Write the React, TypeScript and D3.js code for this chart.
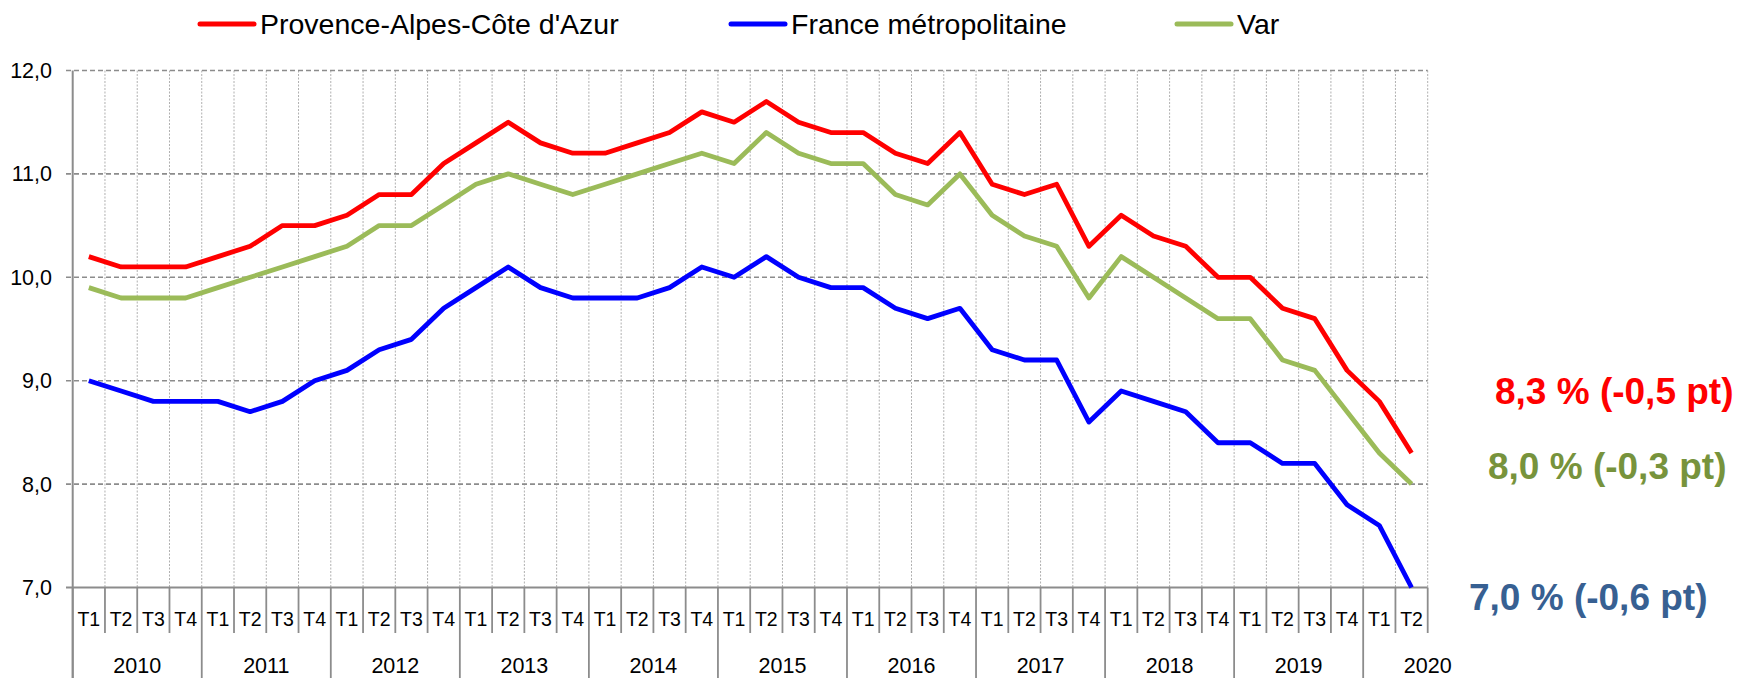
import React from "react";
import * as d3 from "d3";

const years = ["2010", "2011", "2012", "2013", "2014", "2015", "2016", "2017", "2018", "2019", "2020"];
const quarterLabels = ["T1", "T2", "T3", "T4"];
const periodCount = 42;

const paca = [
  10.2, 10.1, 10.1, 10.1, 10.2, 10.3, 10.5, 10.5, 10.6, 10.8, 10.8, 11.1,
  11.3, 11.5, 11.3, 11.2, 11.2, 11.3, 11.4, 11.6, 11.5, 11.7, 11.5, 11.4,
  11.4, 11.2, 11.1, 11.4, 10.9, 10.8, 10.9, 10.3, 10.6, 10.4, 10.3, 10.0,
  10.0, 9.7, 9.6, 9.1, 8.8, 8.3,
];
const france = [
  9.0, 8.9, 8.8, 8.8, 8.8, 8.7, 8.8, 9.0, 9.1, 9.3, 9.4, 9.7,
  9.9, 10.1, 9.9, 9.8, 9.8, 9.8, 9.9, 10.1, 10.0, 10.2, 10.0, 9.9,
  9.9, 9.7, 9.6, 9.7, 9.3, 9.2, 9.2, 8.6, 8.9, 8.8, 8.7, 8.4,
  8.4, 8.2, 8.2, 7.8, 7.6, 7.0,
];
const varDept = [
  9.9, 9.8, 9.8, 9.8, 9.9, 10.0, 10.1, 10.2, 10.3, 10.5, 10.5, 10.7,
  10.9, 11.0, 10.9, 10.8, 10.9, 11.0, 11.1, 11.2, 11.1, 11.4, 11.2, 11.1,
  11.1, 10.8, 10.7, 11.0, 10.6, 10.4, 10.3, 9.8, 10.2, 10.0, 9.8, 9.6,
  9.6, 9.2, 9.1, 8.7, 8.3, 8.0,
];
const yTicks = [7, 8, 9, 10, 11, 12];

const seriesNames = ["Provence-Alpes-Côte d'Azur", "France métropolitaine", "Var"];
const seriesColors = ["#FF0000", "#0000FF", "#9BBB59"];
const annotations = ["8,3 % (-0,5 pt)", "8,0 % (-0,3 pt)", "7,0 % (-0,6 pt)"];
const annotationColors = ["#FF0000", "#77933C", "#376092"];

const W = 1743;
const H = 678;
const FONT = "'Liberation Sans', Arial, sans-serif";

export default function App() {
  const idx = d3.range(periodCount);
  const x = d3.scaleBand<number>().domain(idx).range([72.7, 1427.7]).padding(0);
  const y = d3.scaleLinear().domain([7, 12]).range([587.5, 70.5]);
  const bw = x.bandwidth();
  const left = x.range()[0];
  const right = x.range()[1];
  const bottom = y(7);

  const line = d3
    .line<number>()
    .x((_, i) => (x(i) as number) + bw / 2)
    .y((d) => y(d));

  const fmt = (v: number) => d3.format(".1f")(v).replace(".", ",");

  const boundaries = d3.range(periodCount + 1).map((i) => left + i * bw);

  const series = [paca, france, varDept];
  const drawOrder = [2, 1, 0];

  const legendX = [200, 731, 1177];

  return (
    <div style={{ position: "absolute", left: 0, top: 0 }}>
      <svg width={W} height={H} style={{ display: "block", background: "#fff" }} fontFamily={FONT}>
        {/* vertical dotted gridlines */}
        {boundaries.slice(1).map((bx, i) => (
          <line key={"vg" + i} x1={bx} x2={bx} y1={y(12)} y2={bottom} stroke="#B0B0B0" strokeWidth={1} strokeDasharray="2,1.5" />
        ))}
        {/* horizontal dashed gridlines */}
        {yTicks.filter((t) => t > 7).map((t) => (
          <line key={"hg" + t} x1={66} x2={right} y1={y(t)} y2={y(t)} stroke="#8C8C8C" strokeWidth={1.6} strokeDasharray="5,3" />
        ))}
        {/* y tick labels */}
        {yTicks.map((t) => (
          <text key={"yl" + t} x={52} y={y(t) + 7.5} textAnchor="end" fontSize={21.5} fill="#000">
            {fmt(t)}
          </text>
        ))}
        {/* x tick marks below axis */}
        {boundaries.map((bx, i) => (
          <line key={"xt" + i} x1={bx} x2={bx} y1={bottom} y2={i % 4 === 0 ? H : 633} stroke="#8C8C8C" strokeWidth={1.8} />
        ))}
        {/* y axis */}
        <line x1={left} x2={left} y1={y(12)} y2={H} stroke="#8C8C8C" strokeWidth={2} />
        {/* x axis */}
        <line x1={66} x2={right} y1={bottom} y2={bottom} stroke="#8C8C8C" strokeWidth={2} />
        {/* quarter labels */}
        {idx.map((i) => (
          <text key={"q" + i} x={(x(i) as number) + bw / 2} y={625.5} textAnchor="middle" fontSize={19.5} fill="#000">
            {quarterLabels[i % 4]}
          </text>
        ))}
        {/* year labels */}
        {years.map((yr, j) => {
          const start = j * 4;
          const end = Math.min(start + 4, periodCount);
          const cx = j === years.length - 1 ? right : left + ((start + end) / 2) * bw;
          return (
            <text key={"y" + yr} x={cx} y={673} textAnchor="middle" fontSize={21.5} fill="#000">
              {yr}
            </text>
          );
        })}
        {/* series lines */}
        {drawOrder.map((s) => (
          <path key={"s" + s} d={line(series[s]) || ""} fill="none" stroke={seriesColors[s]} strokeWidth={4.8} strokeLinejoin="round" />
        ))}
        {/* legend */}
        {seriesNames.map((name, i) => (
          <g key={"lg" + i}>
            <line x1={legendX[i]} x2={legendX[i] + 54} y1={24} y2={24} stroke={seriesColors[i]} strokeWidth={5} strokeLinecap="round" />
            <text x={legendX[i] + 60} y={34} fontSize={28.5} fill="#000">
              {name}
            </text>
          </g>
        ))}
        {/* annotations */}
        {annotations.map((a, i) => (
          <text
            key={"an" + i}
            x={[1495, 1488, 1469][i]}
            y={[404, 479, 610][i]}
            fontSize={37}
            fontWeight="bold"
            fill={annotationColors[i]}
          >
            {a}
          </text>
        ))}
      </svg>
    </div>
  );
}
